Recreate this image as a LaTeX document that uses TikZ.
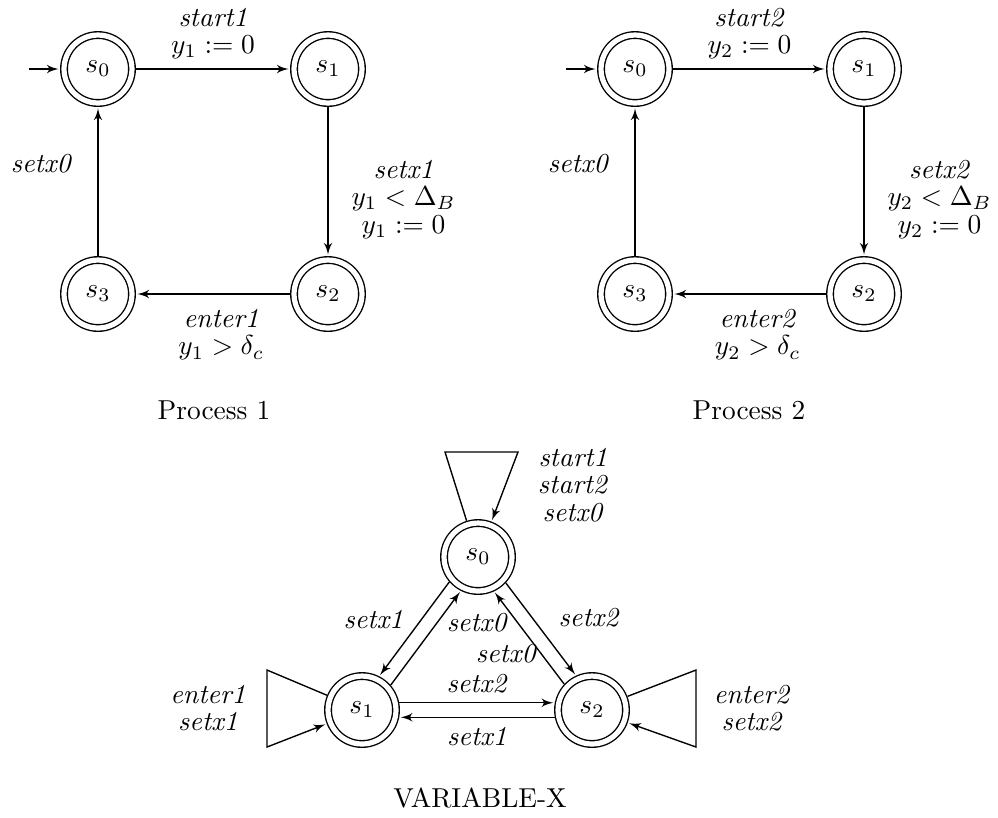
\documentclass[tikz,border=0pt]{standalone}
\usepackage{amsmath}
\usepackage{amssymb}
\usetikzlibrary{arrows}

\begin{document}
\begin{tikzpicture}[x=0.365pt,y=-0.365pt,->,>=latex',shorten >=0.5pt,auto,
  line width=0.5pt,
  main node/.style={circle,draw,double,double distance=1.9pt,minimum size=24.8pt,inner sep=0pt,outer sep=1.5pt},
  lbl/.style={align=center,font=\fontsize{10pt}{10pt}\selectfont}]
  \useasboundingbox (0,0) rectangle (998,817);

  % Process 1
  \node[main node] (p1s0) at (98,69) {$s_0$};
  \node[main node] (p1s1) at (328,69) {$s_1$};
  \node[main node] (p1s2) at (328,294) {$s_2$};
  \node[main node] (p1s3) at (98,294) {$s_3$};
  \coordinate (p1in) at (29,69);

  \draw (p1in) -- (p1s0);
  \path[every node/.style={lbl}]
    (p1s0) edge node [above] {\textit{start1}\\ $y_1 := 0$} (p1s1)
    (p1s1) edge node [right,pos=0.62,xshift=5pt] {\textit{setx1}\\ $y_1 < \Delta_B$\\ $y_1 := 0$} (p1s2)
    (p1s2) edge node [below,xshift=3pt,yshift=-2pt] {\textit{enter1}\\ $y_1 > \delta_c$} (p1s3)
    (p1s3) edge node [left,pos=0.62,xshift=-6pt] {\textit{setx0}} (p1s0);
  \node (proc1) at (214,410) {Process 1};

  % Process 2
  \node[main node] (p2s0) at (635,69) {$s_0$};
  \node[main node] (p2s1) at (864,69) {$s_1$};
  \node[main node] (p2s2) at (864,294) {$s_2$};
  \node[main node] (p2s3) at (635,294) {$s_3$};
  \coordinate (p2in) at (566,69);

  \draw (p2in) -- (p2s0);
  \path[every node/.style={lbl}]
    (p2s0) edge node [above] {\textit{start2}\\ $y_2 := 0$} (p2s1)
    (p2s1) edge node [right,pos=0.62,xshift=5pt] {\textit{setx2}\\ $y_2 < \Delta_B$\\ $y_2 := 0$} (p2s2)
    (p2s2) edge node [below,xshift=3pt,yshift=-2pt] {\textit{enter2}\\ $y_2 > \delta_c$} (p2s3)
    (p2s3) edge node [left,pos=0.62,xshift=-6pt] {\textit{setx0}} (p2s0);
  \node (proc2) at (749,410) {Process 2};

  % VARIABLE-X
  \node[main node] (v0) at (478,557) {$s_0$};
  \node[main node] (v1) at (362,710) {$s_1$};
  \node[main node] (v2) at (592,710) {$s_2$};

  \coordinate (v0a) at (445,452);
  \coordinate (v0b) at (518,452);
  \coordinate (v1a) at (267,670);
  \coordinate (v1b) at (267,747);
  \coordinate (v2a) at (696,670);
  \coordinate (v2b) at (696,747);

  \draw (v0) -- (v0a) -- (v0b) -- (v0);
  \draw (v1) -- (v1a) -- (v1b) -- (v1);
  \draw (v2) -- (v2a) -- (v2b) -- (v2);

  \path[every node/.style={lbl}]
    (v0.221.8) edge node [left,pos=0.4,xshift=-3pt] {\textit{setx1}} (v1.63.8)
    (v1.41.8) edge node [right,pos=0.66] {\textit{setx0}} (v0.243.8)
    (v0.317.7) edge node [right,pos=0.38,xshift=6pt] {\textit{setx2}} (v2.115.7)
    (v2.137.7) edge node [left,pos=0.33,xshift=2pt] {\textit{setx0}} (v0.295.7)
    (v1.11) edge node [above] {\textit{setx2}} (v2.169)
    (v2.191) edge node [below] {\textit{setx1}} (v1.349);

  \node[lbl] (v0lbl) at (573,485) {\textit{start1}\\ \textit{start2}\\ \textit{setx0}};
  \node[lbl] (v1lbl) at (208,708) {\textit{enter1}\\ \textit{setx1}};
  \node[lbl] (v2lbl) at (752,708) {\textit{enter2}\\ \textit{setx2}};
  \node (varx) at (480,798) {VARIABLE-X};

\end{tikzpicture}
\end{document}
